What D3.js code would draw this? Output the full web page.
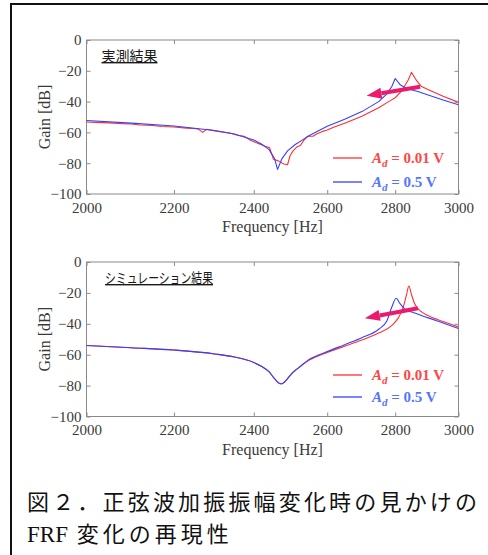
<!DOCTYPE html>
<html>
<head>
<meta charset="utf-8">
<script src="https://cdn.jsdelivr.net/npm/d3@7"></script>
<style>
  body { margin: 0; background: #fff; }
  svg { display: block; }
</style>
</head>
<body>
<div id="content"></div>
<script>
/* Layout */
const WIDTH = 488;
const HEIGHT = 555;
const PLOT_LEFT = 86.5;
const PLOT_RIGHT = 458.5;
const SERIF = "'Liberation Serif', 'Times New Roman', serif";
const CJK = "'Noto Sans CJK JP', sans-serif";
const PANELS = [
  {top: 40, bottom: 194, label: "実測結果", labelX: 101.5, labelW: 56, legendY: [158, 182]},
  {top: 262, bottom: 416.5, label: "シミュレーション結果", labelX: 105, labelW: 108, legendY: [375, 397]}
];

const RED = "#ff3030";
const BLUE = "#3340ff";
const RED_TEXT = "#ff4545";
const BLUE_TEXT = "#5575ff";
const ARROW = "#ec1a6c";

/* Data (Hz, dB) */
const xTicks = [2000, 2200, 2400, 2600, 2800, 3000];
const yTicks = [0, -20, -40, -60, -80, -100];
const legendLabels = ["0.01 V", "0.5 V"];

// measured, Ad = 0.01 V
const measLow = [
  [2000, -53.2], [2020, -53.5], [2050, -53.8], [2080, -54.3], [2100, -54.5], [2120, -55.2],
  [2150, -55.5], [2170, -56.2], [2200, -56.5], [2230, -57.2], [2250, -57.5], [2260, -58],
  [2270, -60], [2280, -58], [2300, -59], [2340, -60.5], [2360, -62], [2375, -62.5],
  [2390, -65], [2410, -67], [2430, -69], [2442, -70], [2452, -77.5], [2465, -78.5],
  [2480, -80.5], [2490, -81], [2497, -75], [2505, -72], [2515, -69.5], [2525, -68.5],
  [2535, -65], [2545, -62.5], [2560, -62.5], [2570, -61], [2585, -59.5], [2600, -58.5],
  [2620, -56.5], [2650, -54], [2700, -49.5], [2750, -44], [2780, -40], [2800, -37.5],
  [2820, -33], [2840, -26], [2850, -21], [2865, -26], [2880, -30], [2900, -32],
  [2950, -36.5], [3000, -40.5]
];
// measured, Ad = 0.5 V
const measHigh = [
  [2000, -52.3], [2100, -54], [2200, -55.8], [2300, -58.8], [2350, -61], [2400, -65],
  [2420, -67.5], [2440, -71], [2455, -77], [2463, -84], [2475, -77], [2490, -72],
  [2510, -68], [2530, -65], [2550, -62], [2600, -56], [2650, -51.5], [2700, -46.5],
  [2750, -40], [2775, -35], [2790, -30], [2800, -25], [2815, -29], [2835, -31.5],
  [2870, -33.5], [2900, -35.5], [2950, -39], [3000, -42]
];
// simulated, Ad = 0.01 V
const simLow = [
  [2000, -54], [2100, -55.5], [2200, -57], [2300, -59.5], [2350, -61.5], [2400, -65],
  [2420, -67.5], [2440, -71], [2455, -75.5], [2467, -78.5], [2475, -78.8], [2485, -77],
  [2495, -74], [2505, -71.5], [2520, -68.5], [2550, -63.5], [2600, -58.5], [2650, -54.5],
  [2700, -50.5], [2750, -46], [2790, -41], [2810, -36], [2825, -29], [2835, -21],
  [2842, -15.5], [2850, -21], [2860, -27], [2880, -32], [2900, -34.5], [2950, -38.5],
  [3000, -42]
];
// simulated, Ad = 0.5 V
const simHigh = [
  [2000, -54], [2100, -55.5], [2200, -57], [2300, -59.5], [2350, -61.5], [2400, -65],
  [2420, -67.5], [2440, -71], [2455, -75.5], [2465, -78], [2472, -79], [2480, -78],
  [2490, -75.5], [2500, -72.5], [2520, -68.5], [2550, -63], [2600, -58], [2650, -53.5],
  [2700, -49], [2750, -43.5], [2775, -38], [2790, -29], [2803, -23.5], [2815, -27],
  [2830, -30.5], [2860, -33], [2900, -36], [2950, -39.5], [3000, -43]
];

// arrow annotation: [tail, tip] in (Hz, dB)
const measArrow = [[2877, -30.3], [2714, -36.2]];
const simArrow = [[2870, -29.9], [2709, -36.4]];

const caption1 = "図２．正弦波加振振幅変化時の見かけの";
const caption2a = "FRF";
const caption2b = " 変化の再現性";


window.onload = () => {
  const svg = d3.select("#content").append("svg")
    .attr("width", WIDTH).attr("height", HEIGHT);

  svg.append("rect").attr("width", WIDTH).attr("height", HEIGHT).attr("fill", "#fff");

  // outer box of the figure
  svg.append("rect")
    .attr("x", 11).attr("y", 4).attr("width", 500).attr("height", 600)
    .attr("fill", "none").attr("stroke", "#111").attr("stroke-width", 2);

  const x = d3.scaleLog().domain([2000, 3000]).range([PLOT_LEFT, PLOT_RIGHT]);

  const series = [
    {lines: [measLow, measHigh], arrow: measArrow, curve: d3.curveLinear},
    {lines: [simLow, simHigh], arrow: simArrow, curve: d3.curveMonotoneX}
  ];

  PANELS.forEach((p, i) => {
    const y = d3.scaleLinear().domain([-100, 0]).range([p.bottom, p.top]);
    const g = svg.append("g");

    // axes, MATLAB style ticks pointing inwards on all four sides
    g.append("g").attr("transform", `translate(0,${p.bottom})`)
      .call(d3.axisBottom(x).tickValues(xTicks).tickFormat(d3.format("d"))
        .tickSizeInner(-4).tickSizeOuter(0).tickPadding(8));
    g.append("g").attr("transform", `translate(0,${p.top})`)
      .call(d3.axisTop(x).tickValues(xTicks).tickFormat("")
        .tickSizeInner(-4).tickSizeOuter(0));
    g.append("g").attr("transform", `translate(${PLOT_LEFT},0)`)
      .call(d3.axisLeft(y).tickValues(yTicks).tickFormat(d3.format("d"))
        .tickSizeInner(-4).tickSizeOuter(0).tickPadding(5));
    g.append("g").attr("transform", `translate(${PLOT_RIGHT},0)`)
      .call(d3.axisRight(y).tickValues(yTicks).tickFormat("")
        .tickSizeInner(-4).tickSizeOuter(0));

    g.selectAll(".domain").remove();
    g.selectAll(".tick line").attr("stroke", "#8a8a8a");
    g.selectAll(".tick text")
      .attr("fill", "#3a3a3a")
      .attr("font-family", null)
      .style("font-family", SERIF)
      .style("font-size", "15px");

    g.append("rect")
      .attr("x", PLOT_LEFT).attr("y", p.top)
      .attr("width", PLOT_RIGHT - PLOT_LEFT).attr("height", p.bottom - p.top)
      .attr("fill", "none").attr("stroke", "#8a8a8a").attr("stroke-width", 1);

    // axis titles
    g.append("text")
      .attr("x", (PLOT_LEFT + PLOT_RIGHT) / 2).attr("y", p.bottom + 38)
      .attr("text-anchor", "middle").attr("fill", "#3a3a3a")
      .style("font-family", SERIF)
      .style("font-size", "16px")
      .text("Frequency [Hz]");
    g.append("text")
      .attr("transform", `translate(50,${(p.top + p.bottom) / 2}) rotate(-90)`)
      .attr("text-anchor", "middle").attr("fill", "#3a3a3a")
      .style("font-family", SERIF)
      .style("font-size", "16px")
      .text("Gain [dB]");

    // panel label, underlined
    g.append("text")
      .attr("x", p.labelX).attr("y", p.top + 21)
      .attr("fill", "#1a1a1a")
      .attr("text-decoration", "underline")
      .attr("textLength", p.labelW).attr("lengthAdjust", "spacingAndGlyphs")
      .style("font-family", CJK)
      .style("font-size", "14px")
      .text(p.label);

    // curves
    const s = series[i];
    const line = d3.line().x((d) => x(d[0])).y((d) => y(d[1])).curve(s.curve);
    [RED, BLUE].forEach((c, k) => {
      g.append("path").datum(s.lines[k])
        .attr("d", line).attr("fill", "none")
        .attr("stroke", c).attr("stroke-width", 1.1)
        .attr("stroke-linejoin", "round");
    });

    // arrow
    const [tail, tip] = s.arrow.map((d) => [x(d[0]), y(d[1])]);
    const ang = Math.atan2(tip[1] - tail[1], tip[0] - tail[0]);
    const headLen = 15, headHalf = 5.5;
    const base = [tip[0] - headLen * Math.cos(ang), tip[1] - headLen * Math.sin(ang)];
    g.append("line")
      .attr("x1", tail[0]).attr("y1", tail[1]).attr("x2", base[0]).attr("y2", base[1])
      .attr("stroke", ARROW).attr("stroke-width", 4);
    g.append("path")
      .attr("d", d3.line()([
        tip,
        [base[0] + headHalf * Math.sin(ang), base[1] - headHalf * Math.cos(ang)],
        [base[0] - headHalf * Math.sin(ang), base[1] + headHalf * Math.cos(ang)]
      ]) + "Z")
      .attr("fill", ARROW);

    // legend
    [RED, BLUE].forEach((c, k) => {
      const ly = p.legendY[k];
      g.append("line").attr("x1", 333).attr("x2", 362).attr("y1", ly).attr("y2", ly)
        .attr("stroke", c).attr("stroke-width", 1.3);
      const t = g.append("text").attr("x", 372).attr("y", ly + 5)
        .attr("fill", k === 0 ? RED_TEXT : BLUE_TEXT)
        .style("font-family", SERIF)
        .style("font-size", "15px").style("font-weight", "bold");
      t.append("tspan").style("font-style", "italic").text("A");
      t.append("tspan").attr("dy", 4).style("font-size", "11px").style("font-style", "italic").text("d");
      t.append("tspan").attr("dy", -4).text(" = " + legendLabels[k]);
    });
  });

  // caption
  svg.append("text")
    .attr("x", 27).attr("y", 510)
    .attr("fill", "#111")
    .attr("textLength", 450).attr("lengthAdjust", "spacing")
    .style("font-family", CJK)
    .style("font-size", "22px")
    .text(caption1);
  const c2 = svg.append("text")
    .attr("x", 27).attr("y", 542)
    .attr("fill", "#111")
    .style("font-size", "22px");
  c2.append("tspan").style("font-family", SERIF).style("font-size", "23px").text(caption2a);
  c2.append("tspan").style("font-family", CJK)
    .attr("letter-spacing", 4).text(caption2b);
};
</script>
</body>
</html>
